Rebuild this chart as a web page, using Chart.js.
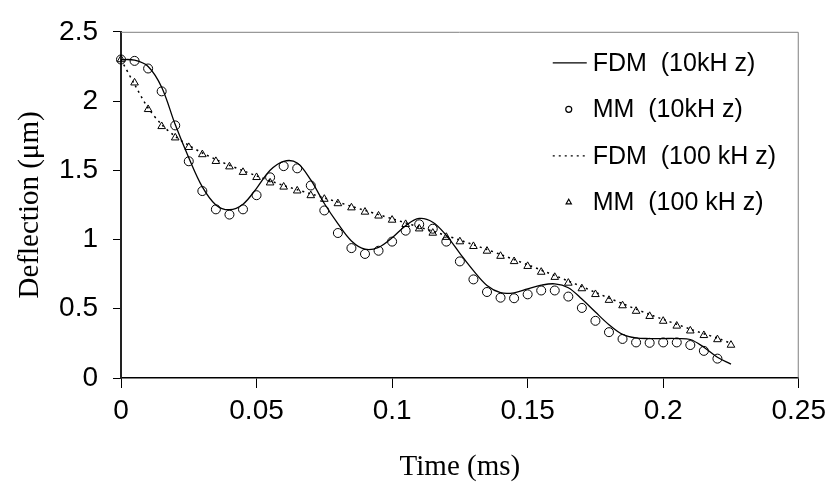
<!DOCTYPE html>
<html lang="en">
<head>
    <meta charset="UTF-8">
    <title>Deflection vs Time</title>
    <script src="https://cdn.jsdelivr.net/npm/chart.js"></script>
    <style>
        html, body { margin: 0; padding: 0; background: #fff; }
        #wrap { width: 832px; height: 487px; }
    </style>
</head>
<body>
    <div id="wrap"><canvas id="chart" width="832" height="487"></canvas></div>

    <script>
        // time axis (ms)
        const timeLine = [0, 0.005, 0.01, 0.015, 0.02, 0.025, 0.03, 0.035, 0.04, 0.045,
            0.05, 0.055, 0.06, 0.065, 0.07, 0.075, 0.08, 0.085, 0.09, 0.095,
            0.1, 0.105, 0.11, 0.115, 0.12, 0.125, 0.13, 0.135, 0.14, 0.145,
            0.15, 0.155, 0.16, 0.165, 0.17, 0.175, 0.18, 0.185, 0.19, 0.195,
            0.2, 0.205, 0.21, 0.215, 0.22, 0.225];
        const timeMM10 = timeLine.slice(0, 45);
        const timeMM100 = timeLine;

        // deflection (um)
        const fdm10 = [2.30, 2.295, 2.25, 2.10, 1.83, 1.59, 1.38, 1.25, 1.215, 1.255,
            1.37, 1.50, 1.565, 1.553, 1.43, 1.26, 1.115, 0.99, 0.93, 0.943,
            1.012, 1.10, 1.152, 1.125, 1.03, 0.90, 0.775, 0.668, 0.616, 0.615,
            0.643, 0.67, 0.68, 0.652, 0.57, 0.476, 0.385, 0.315, 0.289, 0.285,
            0.285, 0.285, 0.278, 0.222, 0.15, 0.10];
        const mm10 = [2.30, 2.29, 2.235, 2.07, 1.824, 1.565, 1.35, 1.218, 1.18, 1.218,
            1.32, 1.449, 1.53, 1.514, 1.39, 1.21, 1.047, 0.938, 0.896, 0.919,
            0.985, 1.064, 1.11, 1.078, 0.985, 0.842, 0.712, 0.621, 0.58, 0.576,
            0.604, 0.632, 0.632, 0.588, 0.506, 0.413, 0.331, 0.282, 0.257, 0.254,
            0.257, 0.257, 0.238, 0.196, 0.14];
        const fdm100 = [2.30, 2.12, 1.95, 1.83, 1.745, 1.68, 1.625, 1.578, 1.536, 1.497,
            1.46, 1.424, 1.39, 1.36, 1.33, 1.30, 1.27, 1.24, 1.21, 1.18,
            1.15, 1.12, 1.09, 1.06, 1.028, 0.996, 0.962, 0.928, 0.892, 0.855,
            0.818, 0.779, 0.74, 0.70, 0.66, 0.618, 0.577, 0.537, 0.497, 0.459,
            0.423, 0.388, 0.353, 0.32, 0.288, 0.25];
        const mm100 = [2.30, 2.132, 1.94, 1.817, 1.735, 1.666, 1.614, 1.565, 1.526, 1.486,
            1.449, 1.41, 1.38, 1.352, 1.318, 1.292, 1.26, 1.23, 1.199, 1.171,
            1.141, 1.11, 1.078, 1.047, 1.017, 0.985, 0.951, 0.917, 0.88, 0.842,
            0.807, 0.765, 0.728, 0.686, 0.646, 0.604, 0.562, 0.523, 0.483, 0.446,
            0.411, 0.376, 0.341, 0.308, 0.278, 0.238];

        const seriesLabels = ['FDM  (10kH z)', 'MM  (10kH z)', 'FDM  (100 kH z)', 'MM  (100 kH z)'];
        const xTickLabels = ['0', '0.05', '0.1', '0.15', '0.2', '0.25'];
        const yTickLabels = ['0', '0.5', '1', '1.5', '2', '2.5'];

        const SANS = "'Liberation Sans', Arial, sans-serif";
        const SERIF = "'Liberation Serif', 'Times New Roman', serif";

        function pairs(xs, ys) {
            return ys.map((y, i) => ({ x: xs[i], y: y }));
        }

        // legend drawn inside the plot, top right
        const innerLegend = {
            id: 'innerLegend',
            afterDatasetsDraw(chart) {
                const ctx = chart.ctx;
                const area = chart.chartArea;
                const x0 = area.right - 246;
                const textX = area.right - 206;
                ctx.save();
                ctx.font = '25px ' + SANS;
                ctx.textBaseline = 'middle';
                ctx.fillStyle = '#000';
                ctx.strokeStyle = '#000';
                chart.data.datasets.forEach((ds, i) => {
                    const y = area.top + 31 + i * 46.5;
                    ctx.lineWidth = 1.2;
                    if (ds.showLine) {
                        ctx.setLineDash(ds.borderDash || []);
                        ctx.beginPath();
                        ctx.moveTo(x0, y);
                        ctx.lineTo(x0 + 34, y);
                        ctx.stroke();
                        ctx.setLineDash([]);
                    } else if (ds.pointStyle === 'triangle') {
                        const r = 3;
                        const cx = x0 + 16;
                        ctx.beginPath();
                        ctx.moveTo(cx, y - r);
                        ctx.lineTo(cx + r * 0.866, y + r * 0.5);
                        ctx.lineTo(cx - r * 0.866, y + r * 0.5);
                        ctx.closePath();
                        ctx.stroke();
                    } else {
                        ctx.beginPath();
                        ctx.arc(x0 + 16, y, 3, 0, Math.PI * 2);
                        ctx.stroke();
                    }
                    ctx.fillText(ds.label, textX, y + 1);
                });
                ctx.restore();
            }
        };

        // thin frame on top and right of plot
        const frame = {
            id: 'frame',
            beforeDatasetsDraw(chart) {
                const ctx = chart.ctx;
                const a = chart.chartArea;
                ctx.save();
                ctx.strokeStyle = '#7f7f7f';
                ctx.lineWidth = 1;
                ctx.beginPath();
                ctx.moveTo(a.left, a.top + 0.5);
                ctx.lineTo(a.right - 0.5, a.top + 0.5);
                ctx.lineTo(a.right - 0.5, a.bottom);
                ctx.stroke();
                ctx.restore();
            }
        };

        new Chart(document.getElementById('chart'), {
            type: 'scatter',
            data: {
                datasets: [
                    {
                        label: seriesLabels[0],
                        data: pairs(timeLine, fdm10),
                        showLine: true,
                        borderColor: '#000',
                        borderWidth: 1.3,
                        pointRadius: 0,
                        tension: 0.35,
                        clip: false
                    },
                    {
                        label: seriesLabels[1],
                        data: pairs(timeMM10, mm10),
                        showLine: false,
                        pointStyle: 'circle',
                        pointRadius: 4.5,
                        pointBorderWidth: 1,
                        pointBorderColor: '#000',
                        pointBackgroundColor: 'rgba(0,0,0,0)',
                        clip: false
                    },
                    {
                        label: seriesLabels[2],
                        data: pairs(timeLine, fdm100),
                        showLine: true,
                        borderColor: '#000',
                        borderWidth: 1.5,
                        borderDash: [2, 4],
                        pointRadius: 0,
                        tension: 0.3,
                        clip: false
                    },
                    {
                        label: seriesLabels[3],
                        data: pairs(timeMM100, mm100),
                        showLine: false,
                        pointStyle: 'triangle',
                        pointRadius: 4.4,
                        pointBorderWidth: 1,
                        pointBorderColor: '#000',
                        pointBackgroundColor: 'rgba(0,0,0,0)',
                        clip: false
                    }
                ]
            },
            options: {
                responsive: false,
                animation: false,
                layout: { padding: { top: 21, right: 33, left: 0, bottom: 0 } },
                plugins: {
                    legend: { display: false },
                    tooltip: { enabled: false }
                },
                scales: {
                    x: {
                        type: 'linear',
                        min: 0,
                        max: 0.25,
                        afterFit(scale) { scale.height = 109; },
                        afterBuildTicks(scale) {
                            scale.ticks = xTickLabels.map(t => ({ value: parseFloat(t) }));
                        },
                        ticks: {
                            color: '#000',
                            font: { family: SANS, size: 28 },
                            padding: 6,
                            maxRotation: 0,
                            autoSkip: false,
                            callback: (v, i) => xTickLabels[i]
                        },
                        grid: {
                            drawOnChartArea: false,
                            drawTicks: true,
                            tickLength: 10,
                            color: '#000',
                            lineWidth: 1
                        },
                        border: { display: true, color: '#000', width: 1.5 },
                        title: {
                            display: true,
                            text: 'Time (ms)',
                            color: '#000',
                            font: { family: SERIF, size: 29 },
                            padding: { top: 0, bottom: 2 }
                        }
                    },
                    y: {
                        type: 'linear',
                        min: 0,
                        max: 2.5,
                        afterFit(scale) { scale.width = 121; },
                        afterBuildTicks(scale) {
                            scale.ticks = yTickLabels.map(t => ({ value: parseFloat(t) }));
                        },
                        ticks: {
                            color: '#000',
                            font: { family: SANS, size: 28 },
                            padding: 15,
                            autoSkip: false,
                            callback: (v, i) => yTickLabels[i]
                        },
                        grid: {
                            drawOnChartArea: false,
                            drawTicks: true,
                            tickLength: 8,
                            color: '#000',
                            lineWidth: 1
                        },
                        border: { display: true, color: '#222', width: 2 },
                        title: {
                            display: true,
                            text: 'Deflection (μm)',
                            color: '#000',
                            font: { family: SERIF, size: 29 },
                            padding: { top: 13, bottom: 0 }
                        }
                    }
                }
            },
            plugins: [frame, innerLegend]
        });
    </script>
</body>
</html>
